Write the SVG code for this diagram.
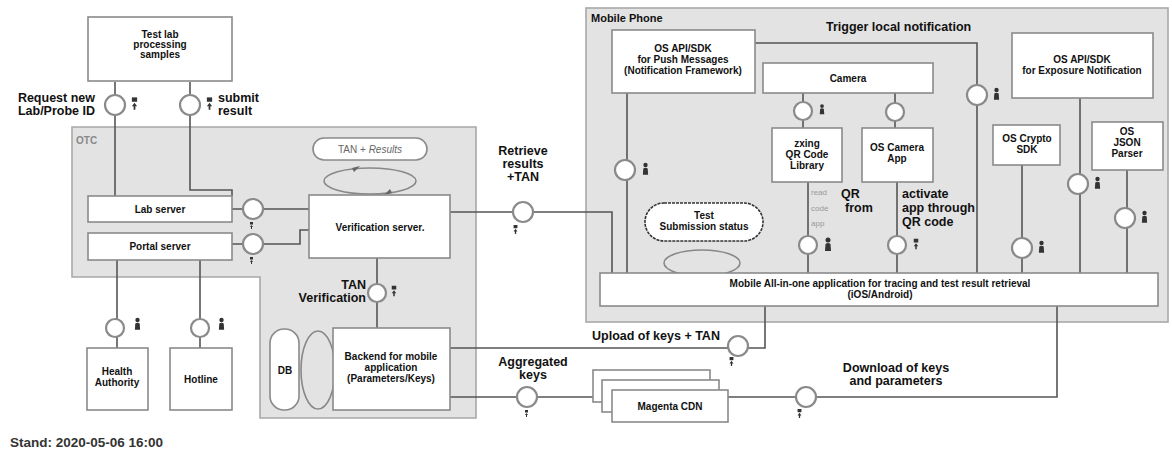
<svg xmlns="http://www.w3.org/2000/svg" width="1172" height="452" viewBox="0 0 1172 452">
<style>
text{font-family:"Liberation Sans",Arial,sans-serif;font-weight:bold;fill:#111}
.box{fill:#fff;stroke:#8a8a8a;stroke-width:1.6}
.cont{fill:#e3e3e3;stroke:#a8a8a8;stroke-width:1.6}
.bt{font-size:10px;text-anchor:middle}
.lbl{font-size:12.5px}
.ln{fill:none;stroke:#555;stroke-width:1.6}
.lc{fill:#fff;stroke:#8a8a8a;stroke-width:2.2}
.loop{fill:none;stroke:#888;stroke-width:1.6}
.ico{fill:#333}
.gt{font-size:8px;fill:#999;font-weight:normal}
</style>
<defs>
<symbol id="person" viewBox="0 0 8 14"><circle cx="4" cy="3" r="2.5"/><path d="M1 14 L1.5 7 Q4 5 6.5 7 L7 14 Z"/></symbol>
<symbol id="arr" viewBox="0 0 8 14"><rect x="1" y="0" width="6" height="5"/><path d="M4 6 L7 10 L5 10 L5 14 L3 14 L3 10 L1 10 Z"/></symbol>
</defs>

<g id="containers">
<path class="cont" d="M72 127 H476 V418 H260 V277 H72 Z"/>
<text x="76" y="144" style="font-size:10px;fill:#888">OTC</text>
<rect class="cont" x="586" y="8" width="582" height="314"/>
<text x="591" y="22" style="font-size:11px">Mobile Phone</text>
</g>

<g id="connectors">
<path class="ln" d="M115 82 V196"/>
<path class="ln" d="M190 82 V190 H232 V196"/>
<path class="ln" d="M232 209 H310"/>
<path class="ln" d="M232 244 H300 V230 H310"/>
<path class="ln" d="M117 260 V348"/>
<path class="ln" d="M200 260 V348"/>
<path class="ln" d="M377 258 V328"/>
<path class="ln" d="M450 212 H612 V273"/>
<path class="ln" d="M450 348 H765 V306"/>
<path class="ln" d="M450 397 H612"/>
<path class="ln" d="M728 397 H1057 V306"/>
<path class="ln" d="M627 93 V273"/>
<path class="ln" d="M755 43 H977 V273"/>
<path class="ln" d="M803 93 V128"/>
<path class="ln" d="M895 93 V128"/>
<path class="ln" d="M808 182 V273"/>
<path class="ln" d="M897 182 V273"/>
<path class="ln" d="M1080 98 V273"/>
<path class="ln" d="M1022 165 V273"/>
<path class="ln" d="M1127 170 V273"/>
<ellipse class="loop" cx="370" cy="181" rx="46" ry="13"/>
<path d="M352 168 l8 -2 -6 6 Z M392 193 l-8 2 6 -6 Z" fill="#666"/>
<ellipse class="loop" cx="318" cy="370" rx="17" ry="39"/>
<ellipse class="loop" cx="702" cy="263" rx="38" ry="13"/>
</g>

<g id="lollipops">
<circle class="lc" cx="115" cy="105" r="10"/>
<circle class="lc" cx="190" cy="105" r="10"/>
<circle class="lc" cx="253" cy="209" r="10"/>
<circle class="lc" cx="253" cy="244" r="10"/>
<circle class="lc" cx="523" cy="212" r="10"/>
<circle class="lc" cx="377" cy="293" r="9"/>
<circle class="lc" cx="115" cy="328" r="9"/>
<circle class="lc" cx="200" cy="328" r="9"/>
<circle class="lc" cx="527" cy="397" r="10"/>
<circle class="lc" cx="738" cy="346" r="10"/>
<circle class="lc" cx="806" cy="397" r="10"/>
<circle class="lc" cx="625" cy="170" r="10"/>
<circle class="lc" cx="803" cy="111" r="9"/>
<circle class="lc" cx="895" cy="112" r="9"/>
<circle class="lc" cx="977" cy="95" r="10"/>
<circle class="lc" cx="808" cy="245" r="9"/>
<circle class="lc" cx="897" cy="245" r="9"/>
<circle class="lc" cx="1078" cy="184" r="10"/>
<circle class="lc" cx="1022" cy="248" r="10"/>
<circle class="lc" cx="1125" cy="218" r="10"/>
</g>

<g id="icons" class="ico">
<use href="#arr" x="131" y="97" width="7" height="13"/>
<use href="#arr" x="206" y="97" width="7" height="13"/>
<use href="#arr" x="247" y="222" width="9" height="7"/>
<use href="#arr" x="247" y="257" width="9" height="7"/>
<use href="#arr" x="511" y="225" width="9" height="9"/>
<use href="#arr" x="391" y="285" width="6" height="12"/>
<use href="#arr" x="522" y="410" width="9" height="7"/>
<use href="#arr" x="727" y="357" width="9" height="9"/>
<use href="#arr" x="795" y="409" width="9" height="9"/>
<use href="#person" x="134" y="317" width="7" height="13"/>
<use href="#person" x="218" y="317" width="7" height="13"/>
<use href="#person" x="642" y="162" width="7" height="13"/>
<use href="#person" x="819" y="103" width="6" height="12"/>
<use href="#person" x="993" y="87" width="7" height="13"/>
<use href="#person" x="824" y="237" width="8" height="14"/>
<use href="#arr" x="913" y="238" width="6" height="12"/>
<use href="#person" x="1094" y="176" width="7" height="13"/>
<use href="#person" x="1038" y="240" width="7" height="13"/>
<use href="#person" x="1141" y="210" width="7" height="13"/>
</g>

<g id="n-testlab"><rect class="box" x="88" y="17" width="144" height="64"/><text class="bt" x="160" y="38">Test lab</text><text class="bt" x="160" y="48">processing</text><text class="bt" x="160" y="58">samples</text></g>
<g id="n-labserver"><rect class="box" x="88" y="196" width="144" height="26"/><text class="bt" x="160" y="213">Lab server</text></g>
<g id="n-portalserver"><rect class="box" x="88" y="233" width="144" height="27"/><text class="bt" x="160" y="250">Portal server</text></g>
<g id="n-verification"><rect class="box" x="309" y="195" width="141" height="63"/><text class="bt" x="380" y="231">Verification server.</text></g>
<g id="n-tanresults"><rect class="box" x="313" y="138" width="114" height="22" rx="11"/><text class="bt" x="370" y="153" style="font-weight:normal;fill:#666">TAN + <tspan font-style="italic">Results</tspan></text></g>
<g id="n-backend"><rect class="box" x="333" y="328" width="117" height="82"/><text class="bt" x="391" y="360">Backend for mobile</text><text class="bt" x="391" y="371">application</text><text class="bt" x="391" y="382">(Parameters/Keys)</text></g>
<g id="n-db"><rect class="box" x="270" y="329" width="29" height="81" rx="14"/><text class="bt" x="285" y="374">DB</text></g>
<g id="n-health"><rect class="box" x="87" y="348" width="61" height="62"/><text class="bt" x="117" y="375">Health</text><text class="bt" x="117" y="386">Authority</text></g>
<g id="n-hotline"><rect class="box" x="170" y="348" width="62" height="62"/><text class="bt" x="201" y="383">Hotline</text></g>
<g id="n-cdn"><rect class="box" x="593" y="370" width="117" height="32"/><rect class="box" x="602" y="380" width="117" height="32"/><rect class="box" x="612" y="390" width="116" height="32"/><text class="bt" x="670" y="410">Magenta CDN</text></g>

<g id="n-push"><rect class="box" x="612" y="30" width="143" height="63"/><text class="bt" x="683" y="52">OS API/SDK</text><text class="bt" x="683" y="63">for Push Messages</text><text class="bt" x="683" y="74">(Notification Framework)</text></g>
<g id="n-camera"><rect class="box" x="763" y="63" width="170" height="30"/><text class="bt" x="848" y="82">Camera</text></g>
<g id="n-zxing"><rect class="box" x="772" y="128" width="70" height="54"/><text class="bt" x="807" y="147">zxing</text><text class="bt" x="807" y="158">QR Code</text><text class="bt" x="807" y="169">Library</text></g>
<g id="n-cameraapp"><rect class="box" x="862" y="128" width="71" height="54"/><text class="bt" x="897" y="151">OS Camera</text><text class="bt" x="897" y="162">App</text></g>
<g id="n-exposure"><rect class="box" x="1012" y="33" width="141" height="65"/><text class="bt" x="1082" y="63">OS API/SDK</text><text class="bt" x="1082" y="74">for Exposure Notification</text></g>
<g id="n-crypto"><rect class="box" x="993" y="125" width="67" height="40"/><text class="bt" x="1027" y="142">OS Crypto</text><text class="bt" x="1027" y="153">SDK</text></g>
<g id="n-json"><rect class="box" x="1092" y="122" width="71" height="48"/><text class="bt" x="1127" y="135">OS</text><text class="bt" x="1127" y="146">JSON</text><text class="bt" x="1127" y="157">Parser</text></g>
<g id="n-testsub"><rect class="box" x="645" y="203" width="118" height="38" rx="19" style="stroke:#333;stroke-dasharray:3 1"/><text class="bt" x="704" y="219">Test</text><text class="bt" x="704" y="230">Submission status</text></g>
<g id="n-app"><rect class="box" x="600" y="273" width="558" height="33"/><text class="bt" x="880" y="287">Mobile All-in-one application for tracing and test result retrieval</text><text class="bt" x="880" y="298">(iOS/Android)</text></g>

<g id="labels">
<text class="lbl" x="95" y="102" text-anchor="end">Request new</text>
<text class="lbl" x="95" y="115" text-anchor="end">Lab/Probe ID</text>
<text class="lbl" x="218" y="102">submit</text>
<text class="lbl" x="218" y="115">result</text>
<text class="lbl" x="523" y="155" text-anchor="middle">Retrieve</text>
<text class="lbl" x="523" y="168" text-anchor="middle">results</text>
<text class="lbl" x="523" y="181" text-anchor="middle">+TAN</text>
<text class="lbl" x="366" y="289" text-anchor="end">TAN</text>
<text class="lbl" x="366" y="302" text-anchor="end">Verification</text>
<text class="lbl" x="533" y="366" text-anchor="middle">Aggregated</text>
<text class="lbl" x="533" y="379" text-anchor="middle">keys</text>
<text class="lbl" x="592" y="340">Upload of keys + TAN</text>
<text class="lbl" x="896" y="372" text-anchor="middle">Download of keys</text>
<text class="lbl" x="896" y="385" text-anchor="middle">and parameters</text>
<text class="lbl" x="826" y="31">Trigger local notification</text>
<text class="gt" x="811" y="195">read</text>
<text class="gt" x="811" y="211">code</text>
<text class="gt" x="811" y="226">app</text>
<text class="lbl" x="841" y="198">QR</text>
<text class="lbl" x="845" y="212">from</text>
<text class="lbl" x="902" y="198">activate</text>
<text class="lbl" x="902" y="212">app through</text>
<text class="lbl" x="902" y="226">QR code</text>
<text class="lbl" x="10" y="447" style="fill:#333;font-size:13.5px">Stand: 2020-05-06 16:00</text>
</g>
</svg>
